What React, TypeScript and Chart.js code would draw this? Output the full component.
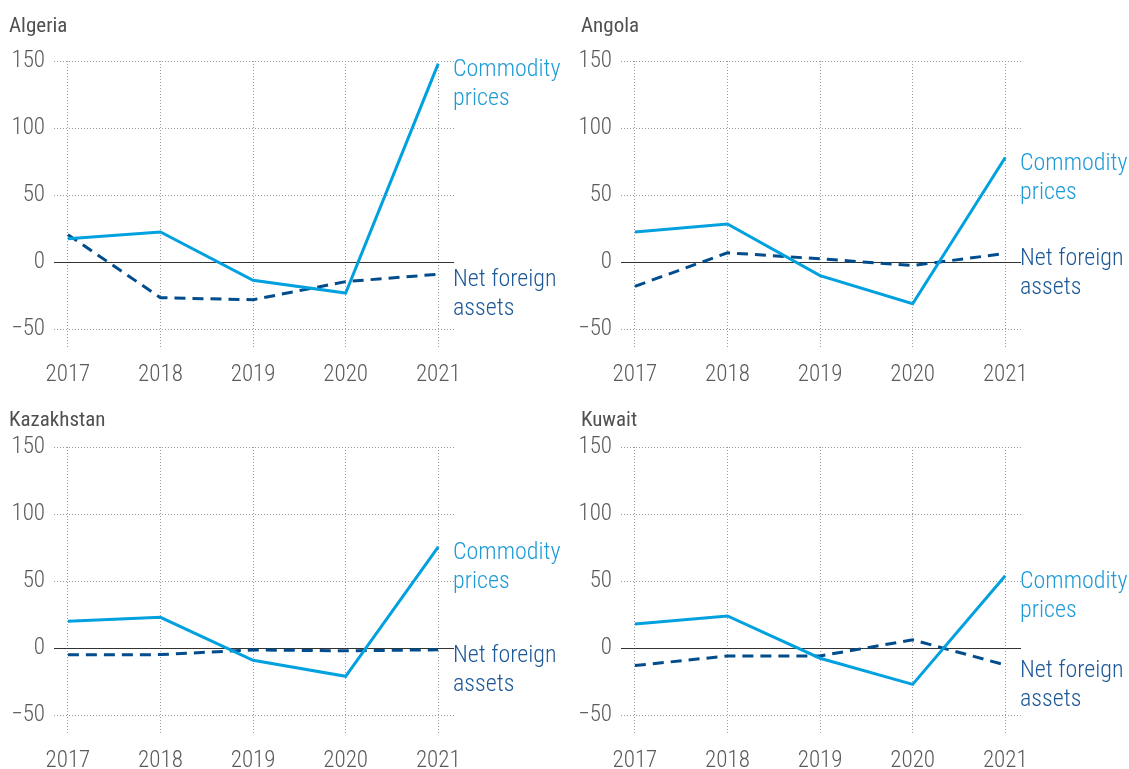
import { useEffect, useRef } from 'react';
import { Chart, registerables } from 'chart.js';

Chart.register(...registerables);

// ---------------- data ----------------
const years = [2017, 2018, 2019, 2020, 2021];
const yTickValues = [-50, 0, 50, 100, 150];
const panelTitles = ['Algeria', 'Angola', 'Kazakhstan', 'Kuwait'];
const commodityLabel = ['Commodity', 'prices'];
const nfaLabel = ['Net foreign', 'assets'];

const algeriaCommodity = [17.5, 22.5, -13.5, -23, 148];
const algeriaNFA = [20.5, -26.5, -28, -14.5, -9];
const angolaCommodity = [22.5, 28.5, -10, -31, 78];
const angolaNFA = [-18, 7, 2.5, -2.5, 6.5];
const kazakhstanCommodity = [20, 23, -9, -21, 75.5];
const kazakhstanNFA = [-5, -4.8, -1.3, -2, -1.2];
const kuwaitCommodity = [18, 24, -7.5, -27, 54];
const kuwaitNFA = [-13, -5.8, -5.8, 6.2, -12.5];

// ---------------- styles ----------------
const FONT = '"Roboto Condensed", "Liberation Sans Narrow", "DejaVu Sans Condensed", Roboto, sans-serif';
const COMMODITY_COLOR = '#00A1DE';
const NFA_COLOR = '#004C8C';
const COMMODITY_TEXT = '#1E9BD7';
const NFA_TEXT = '#1D5897';
const PANEL_W = 565;
const PLOT_LEFT = 54;
const PLOT_RIGHT = 454;
const PLOT_TOP = 61;
const PLOT_BOTTOM = 348;

type PanelProps = {
  title: string;
  commodity: number[];
  nfa: number[];
  left: number;
  top: number;
  height: number;
  titleX: number;
  titleBaseline: number;
};

function Panel({ title, commodity, nfa, left, top, height, titleX, titleBaseline }: PanelProps) {
  const ref = useRef<HTMLCanvasElement | null>(null);

  useEffect(() => {
    if (!ref.current) return;
    const textPlugin = {
      id: 'panelText',
      beforeDatasetsDraw(chart: any) {
        const { ctx, chartArea, scales } = chart;
        const y0 = Math.round(scales.y.getPixelForValue(0)) + 0.5;
        ctx.save();
        ctx.strokeStyle = '#333333';
        ctx.lineWidth = 1.2;
        ctx.setLineDash([]);
        ctx.beginPath();
        ctx.moveTo(chartArea.left, y0);
        ctx.lineTo(chartArea.right, y0);
        ctx.stroke();
        ctx.restore();
      },
      afterDraw(chart: any) {
        const { ctx, chartArea, scales } = chart;
        ctx.save();
        ctx.font = `400 21px ${FONT}`;
        ctx.fillStyle = '#505050';
        ctx.textAlign = 'left';
        ctx.textBaseline = 'alphabetic';
        ctx.fillText(title, titleX, titleBaseline);

        ctx.font = `300 24px ${FONT}`;
        ctx.textBaseline = 'middle';
        const drawLabel = (lines: string[], value: number, color: string) => {
          const y = scales.y.getPixelForValue(value) + 6;
          ctx.fillStyle = color;
          lines.forEach((l, i) => ctx.fillText(l, chartArea.right - 1, y + i * 29));
        };
        drawLabel(commodityLabel, commodity[commodity.length - 1], COMMODITY_TEXT);
        drawLabel(nfaLabel, nfa[nfa.length - 1], NFA_TEXT);
        ctx.restore();
      },
    };

    const chart = new Chart(ref.current, {
      type: 'line',
      data: {
        datasets: [
          {
            label: 'Commodity prices',
            data: years.map((x, i) => ({ x, y: commodity[i] })),
            borderColor: COMMODITY_COLOR,
            borderWidth: 3,
            pointRadius: 0,
            tension: 0,
            fill: false,
          },
          {
            label: 'Net foreign assets',
            data: years.map((x, i) => ({ x, y: nfa[i] })),
            borderColor: NFA_COLOR,
            borderWidth: 3,
            borderDash: [11, 7],
            pointRadius: 0,
            tension: 0,
            fill: false,
          },
        ],
      },
      options: {
        animation: false,
        responsive: false,
        devicePixelRatio: 1,
        layout: { padding: { top: PLOT_TOP, right: PANEL_W - PLOT_RIGHT, left: 0, bottom: 0 } },
        plugins: { legend: { display: false }, tooltip: { enabled: false }, title: { display: false } },
        scales: {
          x: {
            type: 'linear',
            min: 2016.85,
            max: 2021.17,
            afterBuildTicks: (s: any) => {
              s.ticks = years.map((v) => ({ value: v }));
            },
            afterFit: (s: any) => {
              s.height = height - PLOT_BOTTOM;
            },
            grid: { color: '#9a9a9a', lineWidth: 1, drawTicks: false },
            border: { display: false, dash: [1, 2] },
            ticks: {
              callback: (v: any) => String(v),
              color: '#5a5a5a',
              font: { family: FONT, size: 23, weight: '300' },
              padding: 13,
              maxRotation: 0,
              autoSkip: false,
            },
          },
          y: {
            type: 'linear',
            min: -64,
            max: 150,
            afterBuildTicks: (s: any) => {
              s.ticks = yTickValues.map((v) => ({ value: v }));
            },
            afterFit: (s: any) => {
              s.width = PLOT_LEFT;
            },
            grid: { color: '#9a9a9a', lineWidth: 1, drawTicks: false },
            border: { display: false, dash: [1, 2] },
            ticks: {
              callback: (v: any) => (v < 0 ? '\u2212' + Math.abs(v) : String(v)),
              color: '#5a5a5a',
              font: { family: FONT, size: 23, weight: '300' },
              padding: 9,
            },
          },
        },
      },
      plugins: [textPlugin],
    } as any);
    return () => chart.destroy();
  }, []);

  return (
    <canvas
      ref={ref}
      width={PANEL_W}
      height={height}
      style={{ position: 'absolute', left, top, width: PANEL_W, height }}
    />
  );
}

export default function App() {
  return (
    <div
      style={{
        position: 'absolute',
        left: 0,
        top: 0,
        width: 1129,
        height: 769,
        overflow: 'hidden',
        background: '#ffffff',
      }}
    >
      <Panel title={panelTitles[0]} commodity={algeriaCommodity} nfa={algeriaNFA} left={0} top={0} height={386} titleX={9} titleBaseline={32} />
      <Panel title={panelTitles[1]} commodity={angolaCommodity} nfa={angolaNFA} left={567} top={0} height={386} titleX={14} titleBaseline={32} />
      <Panel title={panelTitles[2]} commodity={kazakhstanCommodity} nfa={kazakhstanNFA} left={0} top={386} height={383} titleX={9} titleBaseline={40} />
      <Panel title={panelTitles[3]} commodity={kuwaitCommodity} nfa={kuwaitNFA} left={567} top={386} height={383} titleX={14} titleBaseline={40} />
    </div>
  );
}
